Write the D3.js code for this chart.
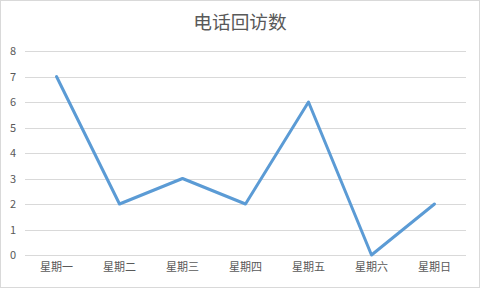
<!DOCTYPE html>
<html>
<head>
<meta charset="utf-8">
<script src="https://cdn.jsdelivr.net/npm/d3@7"></script>
<style>
  html, body { margin: 0; padding: 0; background: #fff; }
  svg { display: block; }
</style>
</head>
<body>
<svg id="chart" width="480" height="288"></svg>
<script>
// Weekly phone follow-up counts
const title = "电话回访数";
const days = ["星期一", "星期二", "星期三", "星期四", "星期五", "星期六", "星期日"];
const calls = [7, 2, 3, 2, 6, 0, 2];
const yTicks = [0, 1, 2, 3, 4, 5, 6, 7, 8];

const W = 480, H = 288;
const margin = { top: 51, right: 14, bottom: 33, left: 25 };
const font = "'Noto Sans CJK SC', 'Microsoft YaHei', sans-serif";

const svg = d3.select("#chart");

// chart area frame
svg.append("rect")
  .attr("x", 0.5).attr("y", 0.5)
  .attr("width", W - 1).attr("height", H - 1)
  .attr("fill", "#fff")
  .attr("stroke", "#d9d9d9");

const x = d3.scaleBand()
  .domain(days)
  .range([margin.left, W - margin.right]);

const y = d3.scaleLinear()
  .domain([0, 8])
  .range([H - margin.bottom, margin.top]);

// horizontal gridlines
svg.append("g")
  .selectAll("line")
  .data(yTicks)
  .join("line")
  .attr("x1", margin.left)
  .attr("x2", W - margin.right)
  .attr("y1", d => Math.round(y(d)) + 0.5)
  .attr("y2", d => Math.round(y(d)) + 0.5)
  .attr("stroke", "#d9d9d9")
  .attr("stroke-width", 1);

// y axis labels
const yAxis = d3.axisLeft(y).tickValues(yTicks).tickSize(0).tickPadding(9);
const gy = svg.append("g")
  .attr("transform", `translate(${margin.left},0)`)
  .call(yAxis);
gy.select(".domain").remove();
gy.selectAll("text")
  .attr("fill", "#595959")
  .style("font-family", font)
  .style("font-size", "11px");

// x axis labels
const xAxis = d3.axisBottom(x).tickSize(0).tickPadding(8);
const gx = svg.append("g")
  .attr("transform", `translate(0,${H - margin.bottom})`)
  .call(xAxis);
gx.select(".domain").remove();
gx.selectAll("text")
  .attr("fill", "#595959")
  .style("font-family", font)
  .style("font-size", "11px");

// series line
const line = d3.line()
  .x((d, i) => x(days[i]) + x.bandwidth() / 2)
  .y(d => y(d));

svg.append("path")
  .datum(calls)
  .attr("d", line)
  .attr("fill", "none")
  .attr("stroke", "#5b9bd5")
  .attr("stroke-width", 3)
  .attr("stroke-linejoin", "round")
  .attr("stroke-linecap", "round");

// title
svg.append("text")
  .attr("x", W / 2)
  .attr("y", 29)
  .attr("text-anchor", "middle")
  .attr("fill", "#595959")
  .style("font-family", font)
  .style("font-size", "18.7px")
  .text(title);
</script>
</body>
</html>
